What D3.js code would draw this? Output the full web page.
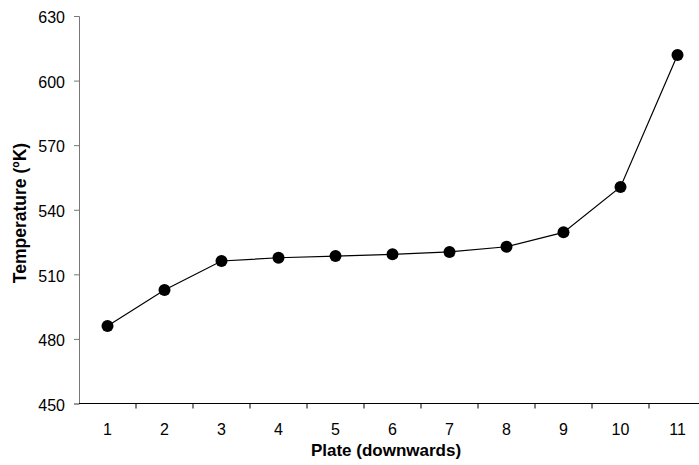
<!DOCTYPE html>
<html><head><meta charset="utf-8">
<script src="https://cdn.jsdelivr.net/npm/d3@7"></script>
<style>body{margin:0;background:#fff}svg{display:block;font-family:"Liberation Sans",Arial,sans-serif}</style>
</head><body><svg id="c" width="699" height="465"></svg>
<script>
const plates = ["1","2","3","4","5","6","7","8","9","10","11"];
const temperature = [486.0, 502.7, 516.2, 517.7, 518.5, 519.3, 520.4, 522.8, 529.5, 550.6, 611.9];
const yTicks = [450, 480, 510, 540, 570, 600, 630];

(function () {
const svg = d3.select("#c");
const mL = 79, mR = 706, mT = 16, mB = 403.5;
const x = d3.scaleBand().domain(plates).range([mL, mR]);
const y = d3.scaleLinear().domain([450, 630]).range([mB, mT]);

// y axis
const ya = svg.append("g").attr("transform", `translate(${mL},0)`)
  .call(d3.axisLeft(y).tickValues(yTicks).tickSize(5).tickPadding(9));
ya.select(".domain").attr("stroke", "#777");
ya.selectAll(".tick line").attr("stroke", "#777");
ya.selectAll("text").attr("font-size", 16).attr("fill", "#000").attr("font-family", "Liberation Sans, Arial, sans-serif").attr("dy", "0.42em");

// x axis: ticks at category boundaries
const xa = svg.append("g").attr("transform", `translate(0,${mB})`);
xa.append("line").attr("x1", mL).attr("x2", mR).attr("stroke", "#000");
const bounds = plates.slice(0, -1).map(p => x(p) + x.bandwidth());
xa.selectAll("line.tk").data(bounds).join("line").attr("class", "tk")
  .attr("x1", d => d).attr("x2", d => d).attr("y1", 0).attr("y2", 5).attr("stroke", "#000");
xa.selectAll("text").data(plates).join("text")
  .attr("x", d => x(d) + x.bandwidth() / 2).attr("y", 31.5)
  .attr("text-anchor", "middle").attr("font-size", 16).text(d => d);

// line + markers
const line = d3.line().x((d, i) => x(plates[i]) + x.bandwidth() / 2).y(d => y(d));
svg.append("path").datum(temperature).attr("d", line).attr("fill", "none").attr("stroke", "#000").attr("stroke-width", 1.2);
svg.selectAll("circle").data(temperature).join("circle")
  .attr("cx", (d, i) => x(plates[i]) + x.bandwidth() / 2).attr("cy", d => y(d)).attr("r", 6).attr("fill", "#000");

// titles
svg.append("text").attr("x", 386).attr("y", 456).attr("text-anchor", "middle")
  .attr("font-size", 17).attr("font-weight", "bold").text("Plate (downwards)");
svg.append("text").attr("transform", "translate(26,213) rotate(-90)").attr("text-anchor", "middle")
  .attr("font-size", 17.5).attr("font-weight", "bold").text("Temperature (ºK)");
})();
</script></body></html>
